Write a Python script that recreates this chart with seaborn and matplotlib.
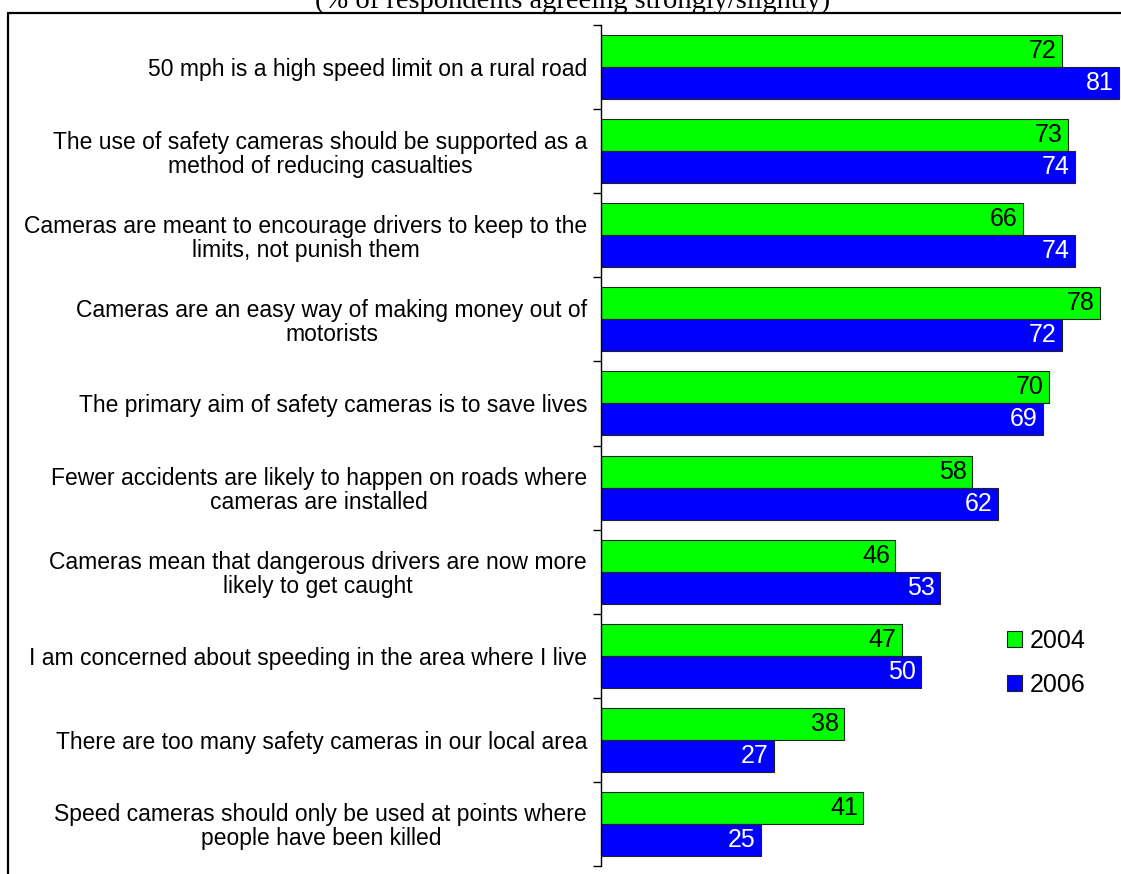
import pandas as pd
import matplotlib
matplotlib.use('Agg')
import matplotlib.pyplot as plt
from matplotlib.lines import Line2D
from matplotlib.patches import Patch
import seaborn as sns

# data
statements = [
    "50 mph is a high speed limit on a rural road",
    "The use of safety cameras should be supported as a\nmethod of reducing casualties",
    "Cameras are meant to encourage drivers to keep to the\nlimits, not punish them",
    "Cameras are an easy way of making money out of\nmotorists",
    "The primary aim of safety cameras is to save lives",
    "Fewer accidents are likely to happen on roads where\ncameras are installed",
    "Cameras mean that dangerous drivers are now more\nlikely to get caught",
    "I am concerned about speeding in the area where I live",
    "There are too many safety cameras in our local area",
    "Speed cameras should only be used at points where\npeople have been killed",
]
pct_2004 = [72, 73, 66, 78, 70, 58, 46, 47, 38, 41]
pct_2006 = [81, 74, 74, 72, 69, 62, 53, 50, 27, 25]
years = ["2004", "2006"]
colors = {"2004": "#00FF00", "2006": "#0000FF"}

df = pd.DataFrame({
    "statement": statements * 2,
    "year": ["2004"] * len(statements) + ["2006"] * len(statements),
    "pct": pct_2004 + pct_2006,
})

sns.set_style("white")
plt.rcParams['font.family'] = ['Liberation Sans', 'DejaVu Sans']
plt.rcParams['text.color'] = 'black'

W, H = 1121, 874
fig = plt.figure(figsize=(W / 100, H / 100), dpi=100)
ax = fig.add_axes([601 / W, 1 - 866 / H, 520 / W, (866 - 25) / H])

sns.barplot(data=df, y="statement", x="pct", hue="year", hue_order=years,
            order=statements, palette=colors, orient="h", width=0.76,
            saturation=1, edgecolor="#222222", linewidth=0.8, ax=ax, legend=False)

ax.set_xlim(0, 81.25)
ax.set_ylim(len(statements) - 0.5, -0.5)
ax.set_xlabel("")
ax.set_ylabel("")
ax.set_xticks([])

# labels at category centres, tick marks at boundaries
ax.set_yticks(range(len(statements)))
ax.set_yticklabels(statements, multialignment="center", fontsize=16.5, linespacing=1.05,
                   color="black")
ax.tick_params(axis="y", which="major", left=True, length=0, pad=10)
ax.set_yticks([i - 0.5 for i in range(len(statements) + 1)], minor=True)
ax.tick_params(axis="y", which="minor", left=True, length=6, width=1, color="black",
               direction="out")

for s in ["top", "right", "bottom"]:
    ax.spines[s].set_visible(False)
ax.spines["left"].set_color("black")
ax.spines["left"].set_linewidth(1)

# value labels inside bar ends
for cont, yr in zip(ax.containers, years):
    txt_col = "black" if yr == "2004" else "white"
    for bar, v in zip(cont, cont.datavalues):
        ax.text(v - 0.85, bar.get_y() + bar.get_height() / 2, str(int(v)),
                ha="right", va="center", color=txt_col, fontsize=18)

handles = [Patch(facecolor=colors[y], edgecolor="#222222", linewidth=0.8, label=y) for y in years]
ax.legend(handles=handles, loc="upper left", bbox_to_anchor=(1007 / W, 1 - 629 / H),
          bbox_transform=fig.transFigure, frameon=False, fontsize=18,
          handlelength=0.6, handleheight=0.6, handletextpad=0.3, labelspacing=0.8,
          borderaxespad=0, borderpad=0, labelcolor="black")

# cropped title and frame from the original slide
fig.text(573 / W, 1 - 8 / H, "(% of respondents agreeing strongly/slightly)",
         ha="center", va="baseline", fontsize=20.5, family="Liberation Serif", color="black")
fig.add_artist(Line2D([8 / W, 1], [1 - 12.5 / H, 1 - 12.5 / H], color="black", linewidth=1.6))
fig.add_artist(Line2D([8 / W, 8 / W], [1 - 12.5 / H, 0], color="black", linewidth=1.6))

fig.savefig("out.png", dpi=100)
